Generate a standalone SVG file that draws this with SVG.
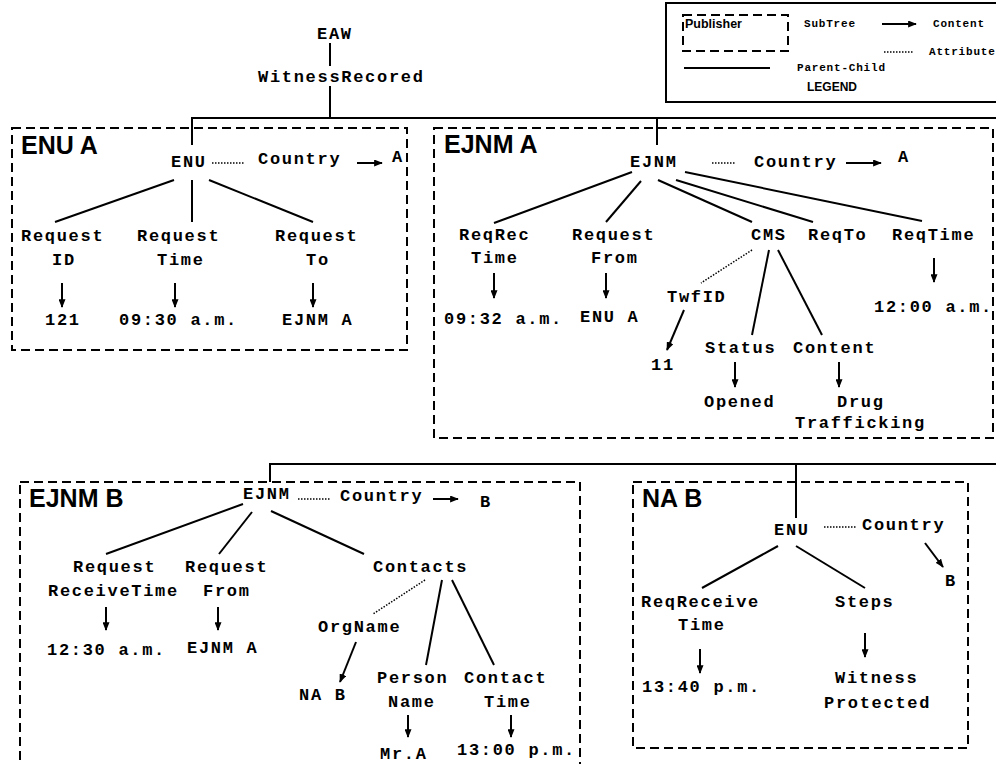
<svg xmlns="http://www.w3.org/2000/svg" width="996" height="764" viewBox="0 0 996 764">
  <defs>
    <marker id="ah" viewBox="0 0 10 8" markerUnits="userSpaceOnUse" markerWidth="9" markerHeight="7" refX="9" refY="4" orient="auto">
      <path d="M0,0 L10,4 L0,8 Z" fill="#000"/>
    </marker>
    <style>
      .t { font-family: "Liberation Mono", "Courier New", monospace; font-weight: bold; font-size: 17px; letter-spacing: 1.7px; fill: #000; }
      .lt { font-family: "Liberation Mono", "Courier New", monospace; font-weight: bold; font-size: 11px; letter-spacing: 0.8px; fill: #000; }
      .h { font-family: "Liberation Sans", Arial, sans-serif; font-weight: bold; font-size: 25px; fill: #000; }
      .hs { font-family: "Liberation Sans", Arial, sans-serif; font-weight: bold; font-size: 12.5px; fill: #000; }
      .box { fill: none; stroke: #000; stroke-width: 2; stroke-dasharray: 9 5; }
      .ln { fill: none; stroke: #000; stroke-width: 2; }
      .dot { fill: none; stroke: #000; stroke-width: 1.5; stroke-dasharray: 1.5 1.5; }
      .ar { fill: none; stroke: #000; stroke-width: 2; marker-end: url(#ah); }
    </style>
  </defs>
  <rect width="996" height="764" fill="#fff"/>

  <!-- legend -->
  <g id="legend">
    <rect x="666" y="3" width="340" height="99" fill="none" stroke="#000" stroke-width="2"/>
    <rect class="box" x="683" y="15" width="105" height="36"/>
    <text class="hs" x="685" y="28">Publisher</text>
    <text class="lt" x="804" y="27">SubTree</text>
    <line class="ar" x1="882" y1="24" x2="916" y2="24"/>
    <text class="lt" x="933" y="27">Content</text>
    <line class="dot" x1="884" y1="52" x2="913" y2="52"/>
    <text class="lt" x="929" y="55">Attribute</text>
    <line class="ln" x1="684" y1="68" x2="770" y2="68"/>
    <text class="lt" x="797" y="71">Parent-Child</text>
    <text class="hs" x="807" y="91" style="font-size:12px">LEGEND</text>
  </g>

  <!-- subtree frames -->
  <g id="frames">
    <rect id="frame-enu-a" class="box" x="12" y="128" width="395" height="222"/>
    <rect id="frame-ejnm-a" class="box" x="434" y="128" width="559" height="310"/>
    <rect id="frame-ejnm-b" class="box" x="20" y="482" width="560" height="300"/>
    <rect id="frame-na-b" class="box" x="633" y="482" width="335" height="266"/>
  </g>

  <!-- connectors -->
  <g id="connectors">
    <!-- root -->
    <line class="ln" x1="330" y1="43" x2="330" y2="66"/>
    <line class="ln" x1="330" y1="86" x2="330" y2="118"/>
    <polyline class="ln" points="192,145 192,118 996,118"/>
    <line class="ln" x1="657" y1="118" x2="657" y2="145"/>
    <polyline class="ln" points="270,482 270,464 996,464"/>
    <line class="ln" x1="796" y1="464" x2="796" y2="518"/>

    <!-- ENU A -->
    <line class="dot" x1="212" y1="163" x2="244" y2="163"/>
    <line class="ar" x1="357" y1="163" x2="382" y2="163"/>
    <line class="ln" x1="174" y1="180" x2="55" y2="222"/>
    <line class="ln" x1="192" y1="180" x2="192" y2="222"/>
    <line class="ln" x1="209" y1="180" x2="313" y2="222"/>
    <line class="ar" x1="62" y1="283" x2="62" y2="307"/>
    <line class="ar" x1="175" y1="283" x2="175" y2="307"/>
    <line class="ar" x1="313" y1="283" x2="313" y2="307"/>

    <!-- EJNM A -->
    <line class="dot" x1="712" y1="163" x2="735" y2="163"/>
    <line class="ar" x1="846" y1="163" x2="881" y2="163"/>
    <line class="ln" x1="632" y1="172" x2="494" y2="223"/>
    <line class="ln" x1="641" y1="181" x2="606" y2="222"/>
    <line class="ln" x1="658" y1="180" x2="752" y2="222"/>
    <line class="ln" x1="676" y1="180" x2="813" y2="222"/>
    <line class="ln" x1="685" y1="172" x2="922" y2="221"/>
    <line class="ar" x1="494" y1="273" x2="494" y2="298"/>
    <line class="ar" x1="606" y1="273" x2="606" y2="298"/>
    <line class="ar" x1="934" y1="258" x2="934" y2="282"/>
    <line class="dot" x1="752" y1="250" x2="701" y2="283"/>
    <line class="ar" x1="684" y1="310" x2="667" y2="350"/>
    <line class="ln" x1="769" y1="250" x2="752" y2="335"/>
    <line class="ln" x1="778" y1="250" x2="822" y2="335"/>
    <line class="ar" x1="735" y1="362" x2="735" y2="387"/>
    <line class="ar" x1="839" y1="362" x2="839" y2="387"/>

    <!-- EJNM B -->
    <line class="dot" x1="298" y1="499" x2="330" y2="499"/>
    <line class="ar" x1="433" y1="499" x2="458" y2="499"/>
    <line class="ln" x1="243" y1="504" x2="106" y2="554"/>
    <line class="ln" x1="252" y1="512" x2="219" y2="554"/>
    <line class="ln" x1="271" y1="511" x2="364" y2="554"/>
    <line class="ar" x1="106" y1="607" x2="106" y2="630"/>
    <line class="ar" x1="218" y1="607" x2="218" y2="630"/>
    <line class="dot" x1="425" y1="580" x2="373" y2="614"/>
    <line class="ln" x1="442" y1="580" x2="426" y2="665"/>
    <line class="ln" x1="452" y1="580" x2="494" y2="665"/>
    <line class="ar" x1="356" y1="642" x2="340" y2="682"/>
    <line class="ar" x1="408" y1="715" x2="408" y2="737"/>
    <line class="ar" x1="511" y1="715" x2="511" y2="737"/>

    <!-- NA B -->
    <line class="dot" x1="824" y1="527" x2="857" y2="527"/>
    <line class="ar" x1="925" y1="543" x2="943" y2="567"/>
    <line class="ln" x1="778" y1="546" x2="702" y2="588"/>
    <line class="ln" x1="796" y1="546" x2="865" y2="588"/>
    <line class="ar" x1="700" y1="649" x2="700" y2="673"/>
    <line class="ar" x1="865" y1="633" x2="865" y2="657"/>
  </g>

  <!-- root nodes -->
  <g id="eaw"><text class="t" x="317" y="39">EAW</text></g>
  <g id="witness-recored"><text class="t" x="258" y="82">WitnessRecored</text></g>

  <!-- ENU A subtree -->
  <g id="enu-a-title"><text class="h" x="21" y="154">ENU A</text></g>
  <g id="enu-a-enu"><text class="t" x="171" y="167">ENU</text></g>
  <g id="enu-a-country"><text class="t" x="258" y="164">Country</text></g>
  <g id="enu-a-country-val"><text class="t" x="392" y="162">A</text></g>
  <g id="enu-a-reqid"><text class="t" x="21" y="241">Request</text><text class="t" x="52" y="265">ID</text></g>
  <g id="enu-a-reqtime"><text class="t" x="137" y="241">Request</text><text class="t" x="157" y="265">Time</text></g>
  <g id="enu-a-reqto"><text class="t" x="275" y="241">Request</text><text class="t" x="306" y="265">To</text></g>
  <g id="enu-a-reqid-val"><text class="t" x="45" y="325">121</text></g>
  <g id="enu-a-reqtime-val"><text class="t" x="119" y="325">09:30 a.m.</text></g>
  <g id="enu-a-reqto-val"><text class="t" x="282" y="325">EJNM A</text></g>

  <!-- EJNM A subtree -->
  <g id="ejnm-a-title"><text class="h" x="444" y="153">EJNM A</text></g>
  <g id="ejnm-a-ejnm"><text class="t" x="630" y="167">EJNM</text></g>
  <g id="ejnm-a-country"><text class="t" x="754" y="167">Country</text></g>
  <g id="ejnm-a-country-val"><text class="t" x="898" y="162">A</text></g>
  <g id="ejnm-a-reqrec"><text class="t" x="459" y="240">ReqRec</text><text class="t" x="471" y="263">Time</text></g>
  <g id="ejnm-a-reqfrom"><text class="t" x="572" y="240">Request</text><text class="t" x="591" y="263">From</text></g>
  <g id="ejnm-a-cms"><text class="t" x="751" y="240">CMS</text></g>
  <g id="ejnm-a-reqto"><text class="t" x="808" y="240">ReqTo</text></g>
  <g id="ejnm-a-reqtime"><text class="t" x="892" y="240">ReqTime</text></g>
  <g id="ejnm-a-reqrec-val"><text class="t" x="444" y="324">09:32 a.m.</text></g>
  <g id="ejnm-a-reqfrom-val"><text class="t" x="580" y="322">ENU A</text></g>
  <g id="ejnm-a-reqtime-val"><text class="t" x="874" y="312">12:00 a.m.</text></g>
  <g id="ejnm-a-twfid"><text class="t" x="667" y="302">TwfID</text></g>
  <g id="ejnm-a-twfid-val"><text class="t" x="651" y="370">11</text></g>
  <g id="ejnm-a-status"><text class="t" x="705" y="353">Status</text></g>
  <g id="ejnm-a-content"><text class="t" x="793" y="353">Content</text></g>
  <g id="ejnm-a-status-val"><text class="t" x="704" y="407">Opened</text></g>
  <g id="ejnm-a-content-val"><text class="t" x="837" y="407">Drug</text><text class="t" x="795" y="428">Trafficking</text></g>

  <!-- EJNM B subtree -->
  <g id="ejnm-b-title"><text class="h" x="29" y="507">EJNM B</text></g>
  <g id="ejnm-b-ejnm"><text class="t" x="243" y="499">EJNM</text></g>
  <g id="ejnm-b-country"><text class="t" x="340" y="501">Country</text></g>
  <g id="ejnm-b-country-val"><text class="t" x="480" y="507">B</text></g>
  <g id="ejnm-b-reqrecv"><text class="t" x="73" y="572">Request</text><text class="t" x="48" y="596">ReceiveTime</text></g>
  <g id="ejnm-b-reqfrom"><text class="t" x="185" y="572">Request</text><text class="t" x="203" y="596">From</text></g>
  <g id="ejnm-b-contacts"><text class="t" x="373" y="572">Contacts</text></g>
  <g id="ejnm-b-reqrecv-val"><text class="t" x="47" y="655">12:30 a.m.</text></g>
  <g id="ejnm-b-reqfrom-val"><text class="t" x="187" y="653">EJNM A</text></g>
  <g id="ejnm-b-orgname"><text class="t" x="318" y="632">OrgName</text></g>
  <g id="ejnm-b-orgname-val"><text class="t" x="299" y="700">NA B</text></g>
  <g id="ejnm-b-person"><text class="t" x="377" y="683">Person</text><text class="t" x="388" y="707">Name</text></g>
  <g id="ejnm-b-contacttime"><text class="t" x="464" y="683">Contact</text><text class="t" x="484" y="707">Time</text></g>
  <g id="ejnm-b-person-val"><text class="t" x="380" y="759">Mr.A</text></g>
  <g id="ejnm-b-contacttime-val"><text class="t" x="457" y="755">13:00 p.m.</text></g>

  <!-- NA B subtree -->
  <g id="na-b-title"><text class="h" x="642" y="507">NA B</text></g>
  <g id="na-b-enu"><text class="t" x="774" y="535">ENU</text></g>
  <g id="na-b-country"><text class="t" x="862" y="530">Country</text></g>
  <g id="na-b-country-val"><text class="t" x="945" y="586">B</text></g>
  <g id="na-b-reqrecv"><text class="t" x="641" y="607">ReqReceive</text><text class="t" x="678" y="630">Time</text></g>
  <g id="na-b-steps"><text class="t" x="835" y="607">Steps</text></g>
  <g id="na-b-reqrecv-val"><text class="t" x="642" y="692">13:40 p.m.</text></g>
  <g id="na-b-steps-val"><text class="t" x="835" y="683">Witness</text><text class="t" x="824" y="708">Protected</text></g>
</svg>
